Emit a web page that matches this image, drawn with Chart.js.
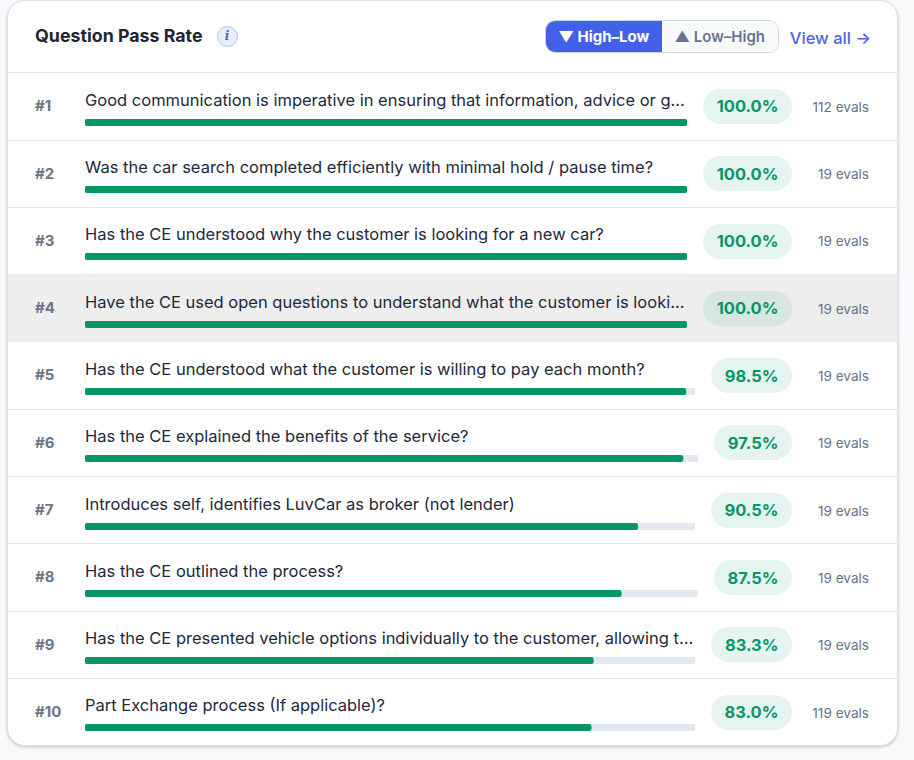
<!DOCTYPE html>
<html>
<head>
<meta charset="utf-8">
<script src="https://cdn.jsdelivr.net/npm/chart.js@4"></script>
<style>
  * { box-sizing: border-box; }
  html, body { margin: 0; height: 100%; overflow: hidden; background: #f8f9fb; font-family: Inter, sans-serif; }
  .card {
    position: absolute; left: 7px; top: 0; width: 891px; height: 746px;
    background: #fff; border: 1px solid #dde3ec; border-radius: 18px; overflow: hidden;
    box-shadow: 0 1px 3px rgba(15,23,42,.25);
  }
  .head { height: 71.3px; display: flex; align-items: center; padding: 0 26px 0 27px; }
  .head h2 { margin: 0 0 3px; font-size: 17.8px; font-weight: 700; color: #1e2533; }
  .info {
    width: 21px; height: 21px; margin: 0 0 1px 14px; border-radius: 50%; background: #e6eefc; border: 1px solid #a9c0f0;
    color: #4a62c8; font: italic 700 12px "DejaVu Serif", serif; display: flex; align-items: center; justify-content: center;
  }
  .sort { margin-left: auto; display: flex; height: 33px; border: 1px solid #cbd5e1; border-radius: 10px; overflow: hidden; font-size: 15px; font-weight: 700; }
  .sort span { display: flex; align-items: center; justify-content: center; }
  .sort .on { width: 116px; background: #4361e8; color: #fff; }
  .sort .off { width: 116px; background: #f8fafc; color: #64748b; font-weight: 600; }
  .viewall { margin: 2px 0 0 11px; font-size: 16.5px; font-weight: 500; color: #4f62e8; }
  .row {
    height: 67.3px; display: flex; align-items: center; padding: 0 28px 0 27px;
    border-top: 1px solid #e2e8f0;
  }
  .row.hover { background: #eeeeee; }
  .row.hover .pill { background: #d8e6e2; }
  .rank { width: 50px; flex: none; font-size: 15px; font-weight: 700; color: #6b7688; position: relative; top: -0.7px; }
  .main { flex: 1; min-width: 0; position: relative; top: 1.3px; }
  .q { font-size: 16.5px; line-height: 20px; color: #1e293b; white-space: nowrap; margin-bottom: 9px; }
  .bar { height: 7px; position: relative; }
  .pill {
    flex: none; margin-left: 16px; height: 35px; padding: 0 13.5px; border-radius: 18px; background: #e6f4ef;
    color: #059669; font-size: 16.5px; font-weight: 700; display: flex; align-items: center;
  }
  .evals { flex: none; width: 77px; text-align: right; font-size: 13.6px; color: #64748b; position: relative; top: 0.4px; }
</style>
</head>
<body>
<div class="card">
  <div class="head">
    <h2>Question Pass Rate</h2>
    <span class="info">i</span>
    <div class="sort"><span class="on">▼ High–Low</span><span class="off">▲ Low–High</span></div>
    <span class="viewall">View all →</span>
  </div>
  <div id="rows"></div>
</div>
<script>
const questions = [
  'Good communication is imperative in ensuring that information, advice or g...',
  'Was the car search completed efficiently with minimal hold / pause time?',
  'Has the CE understood why the customer is looking for a new car?',
  'Have the CE used open questions to understand what the customer is looki...',
  'Has the CE understood what the customer is willing to pay each month?',
  'Has the CE explained the benefits of the service?',
  'Introduces self, identifies LuvCar as broker (not lender)',
  'Has the CE outlined the process?',
  'Has the CE presented vehicle options individually to the customer, allowing t...',
  'Part Exchange process (If applicable)?'
];
const passRates = [100.0, 100.0, 100.0, 100.0, 98.5, 97.5, 90.5, 87.5, 83.3, 83.0];
const evalCounts = [112, 19, 19, 19, 19, 19, 19, 19, 19, 119];
const hoveredRow = 3;

const rowsEl = document.getElementById('rows');

questions.forEach((q, i) => {
  const row = document.createElement('div');
  row.className = 'row' + (i === hoveredRow ? ' hover' : '');
  row.innerHTML =
    '<div class="rank">#' + (i + 1) + '</div>' +
    '<div class="main"><div class="q">' + q + '</div><div class="bar"><canvas></canvas></div></div>' +
    '<div class="pill">' + passRates[i].toFixed(1) + '%</div>' +
    '<div class="evals">' + evalCounts[i] + ' evals</div>';
  rowsEl.appendChild(row);

  new Chart(row.querySelector('canvas'), {
    type: 'bar',
    data: {
      labels: [q],
      datasets: [
        { data: [passRates[i]], backgroundColor: '#059669', order: 1 },
        { data: [100], backgroundColor: '#e2e8f0', order: 2 }
      ]
    },
    options: {
      indexAxis: 'y',
      responsive: true,
      maintainAspectRatio: false,
      animation: false,
      datasets: { bar: { barThickness: 7, borderRadius: 4, borderSkipped: false, grouped: false } },
      scales: {
        x: { display: false, min: 0, max: 100 },
        y: { display: false }
      },
      plugins: { legend: { display: false }, tooltip: { enabled: false } }
    }
  });
});
</script>
</body>
</html>
